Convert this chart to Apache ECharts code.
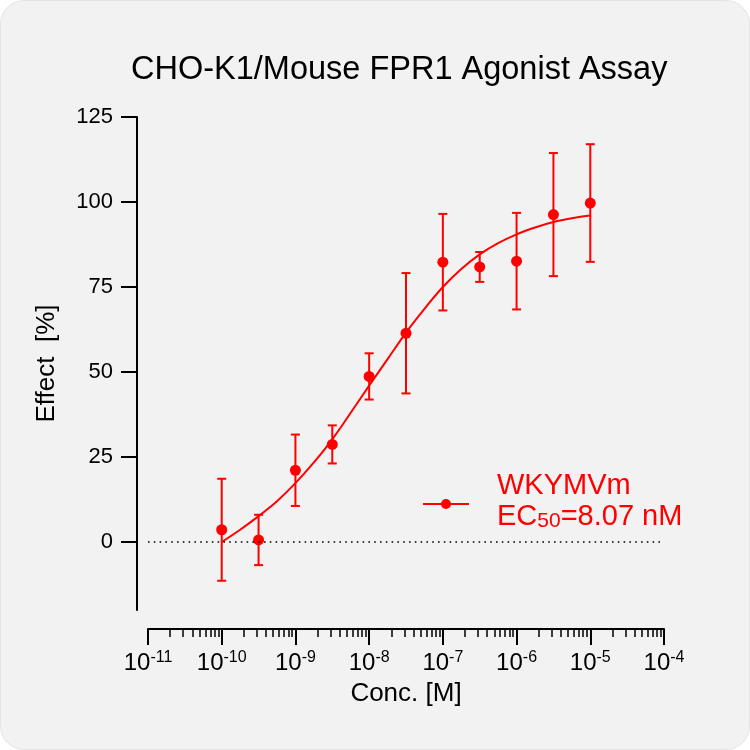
<!DOCTYPE html>
<html><head><meta charset="utf-8">
<script src="https://cdn.jsdelivr.net/npm/echarts@6/dist/echarts.min.js"></script>
<style>
html,body{margin:0;padding:0;background:#fff;}
#card{position:absolute;left:0;top:0;width:750px;height:750px;background:#f2f2f2;border-radius:24px;box-sizing:border-box;border:1px solid #e4e4e4;}
#chart{width:750px;height:750px;position:absolute;left:0;top:0;}
</style></head><body>
<div id="card"></div><div id="chart"></div>
<script>
// ---- data (x values are log10 of molar concentration) ----
const logConc = [-10, -9.5, -9, -8.5, -8, -7.5, -7, -6.5, -6, -5.5, -5];
const effect = [3.6, 0.6, 21.1, 28.7, 48.7, 61.4, 82.3, 80.9, 82.6, 96.3, 99.7];
const effectSD = [15.0, 7.4, 10.5, 5.6, 6.8, 17.7, 14.2, 4.4, 14.2, 18.1, 17.3];
// fitted curve
const fitLogConc = [-10, -9.75, -9.5, -9.25, -9, -8.75, -8.5, -8.25, -8, -7.75, -7.5,
                    -7.25, -7, -6.75, -6.5, -6.25, -6, -5.75, -5.5, -5.25, -5];
const fitEffect = [0, 3.6, 7.6, 12.0, 17.3, 23.4, 30.2, 38.0, 46.0, 53.8, 61.6,
                   68.6, 75.0, 80.3, 84.6, 87.9, 90.5, 92.5, 94.1, 95.2, 96.0];
const xTickExp = [-11, -10, -9, -8, -7, -6, -5, -4];
const yTicks = [0, 25, 50, 75, 100, 125];
const seriesName = 'WKYMVm';
const ec50Label = '8.07 nM';
const titleText = 'CHO-K1/Mouse FPR1 Agonist Assay';

const FONT = '"Liberation Sans", Arial, Helvetica, sans-serif';
const RED = '#ff0000';
const X_OFFSET = 19;

const minorTicks = [];
for (let i = 0; i < xTickExp.length - 1; i++) {
  for (let k = 2; k <= 9; k++) minorTicks.push(xTickExp[i] + Math.log10(k));
}

const chart = echarts.init(document.getElementById('chart'), null, {renderer: 'canvas'});
const option = {
  backgroundColor: 'transparent',
  animation: false,
  title: {
    text: titleText, left: 131, top: 54, padding: 0,
    textStyle: {fontSize: 32.5, fontWeight: 'normal', color: '#000', fontFamily: FONT}
  },
  grid: {left: 148, right: 86, top: 117, bottom: 140},
  xAxis: [{
    type: 'value', min: -11, max: -4, interval: 1, position: 'bottom', offset: X_OFFSET,
    axisLine: {show: true, onZero: false, lineStyle: {color: '#000', width: 2}},
    axisTick: {show: true, length: 16, lineStyle: {color: '#000', width: 2}},
    splitLine: {show: false},
    axisLabel: {
      margin: 21, showMinLabel: true, showMaxLabel: true,
      formatter: v => '{b|10}{s|' + v + '}',
      rich: {
        b: {fontSize: 24, lineHeight: 27, color: '#000', fontFamily: FONT},
        s: {fontSize: 16, lineHeight: 21, verticalAlign: 'top', color: '#000', fontFamily: FONT}
      }
    },
    name: 'Conc. [M]', nameLocation: 'middle', nameGap: 49,
    nameTextStyle: {fontSize: 26, color: '#000', fontFamily: FONT}
  }, {
    type: 'value', min: -11, max: -4, position: 'bottom', offset: X_OFFSET,
    axisLine: {show: false, onZero: false},
    axisTick: {show: true, length: 8, customValues: minorTicks, lineStyle: {color: '#000', width: 1.5}},
    axisLabel: {show: false},
    splitLine: {show: false}
  }],
  yAxis: {
    type: 'value', min: -20, max: 125, offset: 11,
    axisLine: {show: true, onZero: false, lineStyle: {color: '#000', width: 2}},
    axisTick: {show: true, length: 16, customValues: yTicks, lineStyle: {color: '#000', width: 2}},
    axisLabel: {customValues: yTicks, margin: 24, fontSize: 22, color: '#000', fontFamily: FONT},
    splitLine: {show: false},
    name: 'Effect  [%]', nameLocation: 'middle', nameGap: 77,
    nameTextStyle: {fontSize: 26, color: '#000', fontFamily: FONT}
  },
  series: [{
    name: seriesName + ' fit', type: 'line', xAxisIndex: 0,
    data: fitLogConc.map((x, i) => [x, fitEffect[i]]),
    smooth: 0.3, showSymbol: false, symbol: 'none',
    lineStyle: {color: RED, width: 2},
    z: 2,
    markLine: {
      silent: true, symbol: 'none', label: {show: false},
      lineStyle: {color: '#000', width: 1.6, type: [1.6, 4.2]},
      data: [{yAxis: 0}]
    }
  }, {
    name: seriesName + ' SD', type: 'custom', xAxisIndex: 0,
    data: logConc.map((x, i) => [x, effect[i] - effectSD[i], effect[i] + effectSD[i]]),
    encode: {x: 0, y: [1, 2]},
    renderItem: function (params, api) {
      const x = api.value(0), lo = api.value(1), hi = api.value(2);
      const p1 = api.coord([x, hi]), p2 = api.coord([x, lo]);
      const hw = 4.5;
      const st = {stroke: RED, lineWidth: 2};
      return {type: 'group', children: [
        {type: 'line', shape: {x1: p1[0], y1: p1[1], x2: p2[0], y2: p2[1]}, style: st},
        {type: 'line', shape: {x1: p1[0] - hw, y1: p1[1], x2: p1[0] + hw, y2: p1[1]}, style: st},
        {type: 'line', shape: {x1: p2[0] - hw, y1: p2[1], x2: p2[0] + hw, y2: p2[1]}, style: st}
      ]};
    },
    z: 3
  }, {
    name: seriesName, type: 'scatter', xAxisIndex: 0,
    data: logConc.map((x, i) => [x, effect[i]]),
    symbol: 'circle', symbolSize: 11,
    itemStyle: {color: RED, opacity: 1},
    z: 4
  }],
  graphic: [
    {type: 'line', shape: {x1: 423, y1: 504, x2: 469, y2: 504}, style: {stroke: RED, lineWidth: 2}},
    {type: 'circle', shape: {cx: 446, cy: 504, r: 5}, style: {fill: RED}},
    {type: 'text', x: 497, y: 470, style: {
      text: '{a|' + seriesName + '}\n{a|EC}{s|50}{a|=' + ec50Label + '}',
      fill: RED,
      rich: {
        a: {fontSize: 29, lineHeight: 31, fill: RED, color: RED, fontFamily: FONT},
        s: {fontSize: 21, lineHeight: 18, verticalAlign: 'bottom', fill: RED, color: RED, fontFamily: FONT}
      }
    }}
  ]
};
chart.setOption(option);
</script>
</body></html>
